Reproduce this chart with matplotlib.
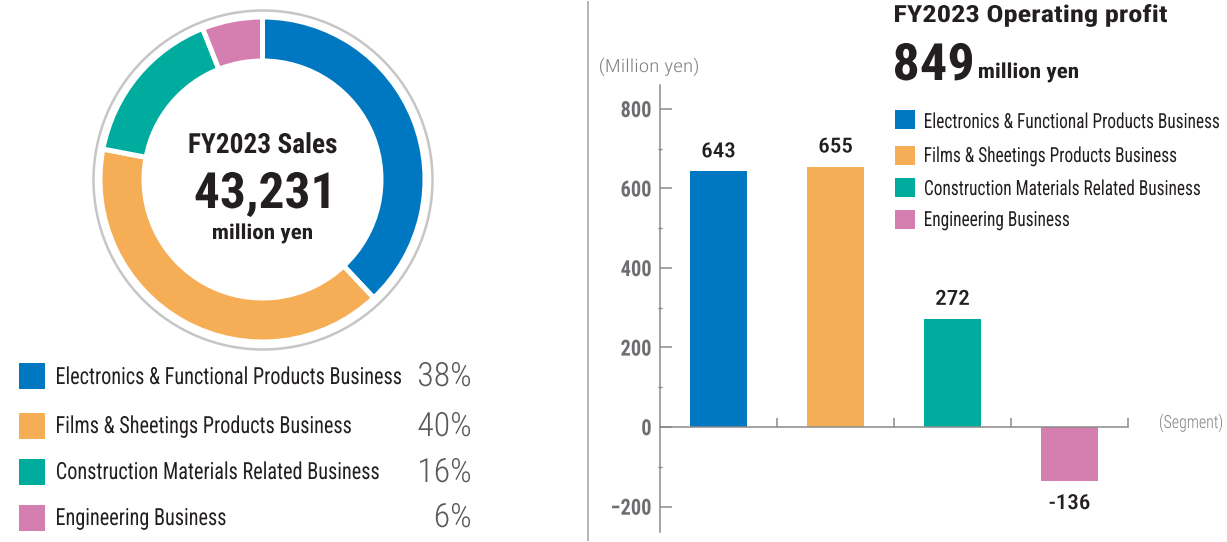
import numpy as np
import matplotlib
matplotlib.use("Agg")
import matplotlib.pyplot as plt
from matplotlib import font_manager as fm
from matplotlib.font_manager import FontProperties
from matplotlib.patheffects import AbstractPathEffect
from matplotlib.transforms import Affine2D
from matplotlib.textpath import TextPath
from matplotlib.patches import Rectangle, Circle
from matplotlib.lines import Line2D
from matplotlib.ticker import MultipleLocator, FixedLocator, NullLocator

# ---------------- data ----------------
segments = ["Electronics & Functional Products Business",
            "Films & Sheetings Products Business",
            "Construction Materials Related Business",
            "Engineering Business"]
sales_share = [38, 40, 16, 6]
profit = [643, 655, 272, -136]
yticks = [-200, 0, 200, 400, 600, 800]
ytick_labels = ["\u2212200", "0", "200", "400", "600", "800"]
total_sales = "43,231"
total_profit = "849"
colors = ["#0078c1", "#f5ae56", "#00ac9e", "#d47fb0"]

# ---------------- style / layout ----------------
W, H, DPI = 1227, 542, 100
DARK = "#231f20"
GRAY_TXT = "#6d6e71"
AXIS_GRAY = "#8a8a8a"

avail = {f.name for f in fm.fontManager.ttflist}
FONT = next((f for f in ["Roboto Condensed", "Roboto", "Liberation Sans Narrow", "DejaVu Sans"]
             if f in avail), "DejaVu Sans")
plt.rcParams["font.family"] = [FONT, "DejaVu Sans"]


class Stretch(AbstractPathEffect):
    """Stretch glyphs vertically (text is set at a smaller size so its width
    matches a condensed typeface; this restores the original glyph height)."""
    def __init__(self, sy, yanchor="baseline", anchor="left", to=None):
        super().__init__()
        self.sy, self.yanchor, self.anchor, self.to = sy, yanchor, anchor, to

    def draw_path(self, renderer, gc, tpath, affine, rgbFace=None):
        if self.yanchor == "baseline":
            y0 = 0.0
        else:
            pb = tpath.get_extents()
            y0 = 0.5 * (pb.y0 + pb.y1)
        t = Affine2D().translate(0, -y0).scale(1, self.sy).translate(0, y0) + affine
        if self.to is not None:
            bb = tpath.get_extents(t)
            x0 = {"left": bb.x0, "center": 0.5 * (bb.x0 + bb.x1), "right": bb.x1}[self.anchor]
            t = t + Affine2D().translate(self.to - x0, 0)
        renderer.draw_path(gc, tpath, t, rgbFace)


def natural_px(s, size, weight):
    tp = TextPath((0, 0), s, size=size, prop=FontProperties(family=FONT, weight=weight))
    return tp.get_extents().width * DPI / 72.0


def sx_for(s, size, weight, target):
    return target / natural_px(s, size, weight)


fig = plt.figure(figsize=(W / DPI, H / DPI), dpi=DPI)
fig.patch.set_facecolor("white")


def ftext(x, y, s, size, weight="normal", color=DARK, anchor="left", width=None, sx=None):
    if sx is None:
        sx = sx_for(s, size, weight, width)
    t = fig.text(x / W, 1 - y / H, s, fontsize=size * sx, fontweight=weight, color=color,
                 ha=anchor, va="baseline")
    t.set_path_effects([Stretch(1.0 / sx, "baseline", anchor, to=x)])
    return sx


def frect(x, y, w, h, color):
    fig.add_artist(Rectangle((x / W, 1 - (y + h) / H), w / W, h / H,
                             transform=fig.transFigure, color=color, lw=0))


# ---------------- donut ----------------
cx, cy, half = 262.5, 179.5, 178
axd = fig.add_axes([(cx - half) / W, (H - cy - half) / H, 2 * half / W, 2 * half / H])
axd.pie(sales_share, colors=colors, radius=162.5, startangle=90, counterclock=False,
        wedgeprops=dict(width=44, edgecolor="white", linewidth=3.6))
axd.add_patch(Circle((0.5, -0.5), 169.5, fill=False, ec="#c6c6c6", lw=1.8))
axd.set_xlim(-half, half)
axd.set_ylim(-half, half)
axd.set_aspect("equal")
axd.axis("off")

ftext(263, 153, "FY2023 Sales", 20, "bold", anchor="center", width=147)
ftext(262, 208, total_sales, 36, "bold", anchor="center", width=133)
ftext(262.5, 239, "million yen", 15, "bold", anchor="center", width=99)

# left legend
leg_sq_top = [363, 413, 459, 505]
leg_base = [384, 433, 479, 525]
pct_base = [386, 436, 482, 527]
sx_leg = sx_for(segments[0], 17, "normal", 344)
sx_pct = sx_for("38%", 24, "light", 51)
for i, seg in enumerate(segments):
    frect(19, leg_sq_top[i], 26, 26, colors[i])
    ftext(57, leg_base[i], seg, 17, "normal", DARK, "left", sx=sx_leg)
    ftext(470, pct_base[i], f"{sales_share[i]}%", 24, "light", "#58595b", "right", sx=sx_pct)

# divider
fig.add_artist(Line2D([588 / W, 588 / W], [1 - 2 / H, 1 - 540 / H],
                      transform=fig.transFigure, color="#b5b5b5", lw=1.4))

# ---------------- bar chart ----------------
ax = fig.add_axes([660 / W, 1 - 532 / H, (1128 - 660) / W, (532 - 85) / H])
x = np.arange(len(profit))
bars = ax.bar(x, profit, width=0.49, color=colors)
ax.set_xlim(-0.5, len(profit) - 0.5)
ax.set_ylim(-264, 860)
ax.patch.set_visible(False)
for s in ["top", "right"]:
    ax.spines[s].set_visible(False)
ax.spines["bottom"].set_position(("data", 0))
for s in ["bottom", "left"]:
    ax.spines[s].set_color(AXIS_GRAY)
    ax.spines[s].set_linewidth(1.1)
ax.xaxis.set_major_locator(NullLocator())
ax.xaxis.set_minor_locator(FixedLocator(x + 0.5))
ax.tick_params(axis="x", which="minor", direction="in", length=6.5, width=1.1, color=AXIS_GRAY)
sx_tick = sx_for("800", 16, "bold", 29)
ax.set_yticks(yticks, labels=ytick_labels)
ax.yaxis.set_minor_locator(MultipleLocator(100))
ax.tick_params(axis="y", which="major", direction="in", length=8.6, width=1.1,
               color=AXIS_GRAY, pad=6, labelsize=16 * sx_tick, labelcolor=GRAY_TXT)
ax.tick_params(axis="y", which="minor", direction="inout", length=2.5, width=1.0, color=AXIS_GRAY)
for lab in ax.get_yticklabels():
    lab.set_fontweight("bold")
    lab.set_path_effects([Stretch(1.0 / sx_tick, "center")])

sx_val = sx_for("643", 15, "medium", 32)
for xi, v in zip(x, profit):
    off = 14 if v >= 0 else -28
    t = ax.annotate(f"{v}", xy=(xi, v), xytext=(0, off), textcoords="offset pixels",
                    ha="center", va="baseline", fontsize=15 * sx_val, fontweight="medium",
                    color=DARK)
    t.set_path_effects([Stretch(1.0 / sx_val, "baseline")])

ftext(600, 72, "(Million yen)", 13, "light", "#808285", "left", width=98)
ftext(1160, 428, "(Segment)", 13, "light", "#808285", "left", width=62)

# title right
ftext(895, 22, "FY2023 Operating profit", 17, "bold", DARK, "left", width=272)
ftext(895, 80, total_profit, 37, "bold", DARK, "left", width=77)
ftext(979, 78, "million yen", 15, "bold", DARK, "left", width=99)

# right legend
rleg_top = [110, 146, 178, 210]
rleg_base = [128, 162, 195, 226]
sx_rleg = sx_for(segments[0], 15, "normal", 294)
for i, seg in enumerate(segments):
    frect(895, rleg_top[i], 20, 19, colors[i])
    ftext(925, rleg_base[i], seg, 15, "normal", DARK, "left", sx=sx_rleg)

fig.savefig("out.png", dpi=DPI, facecolor="white")
